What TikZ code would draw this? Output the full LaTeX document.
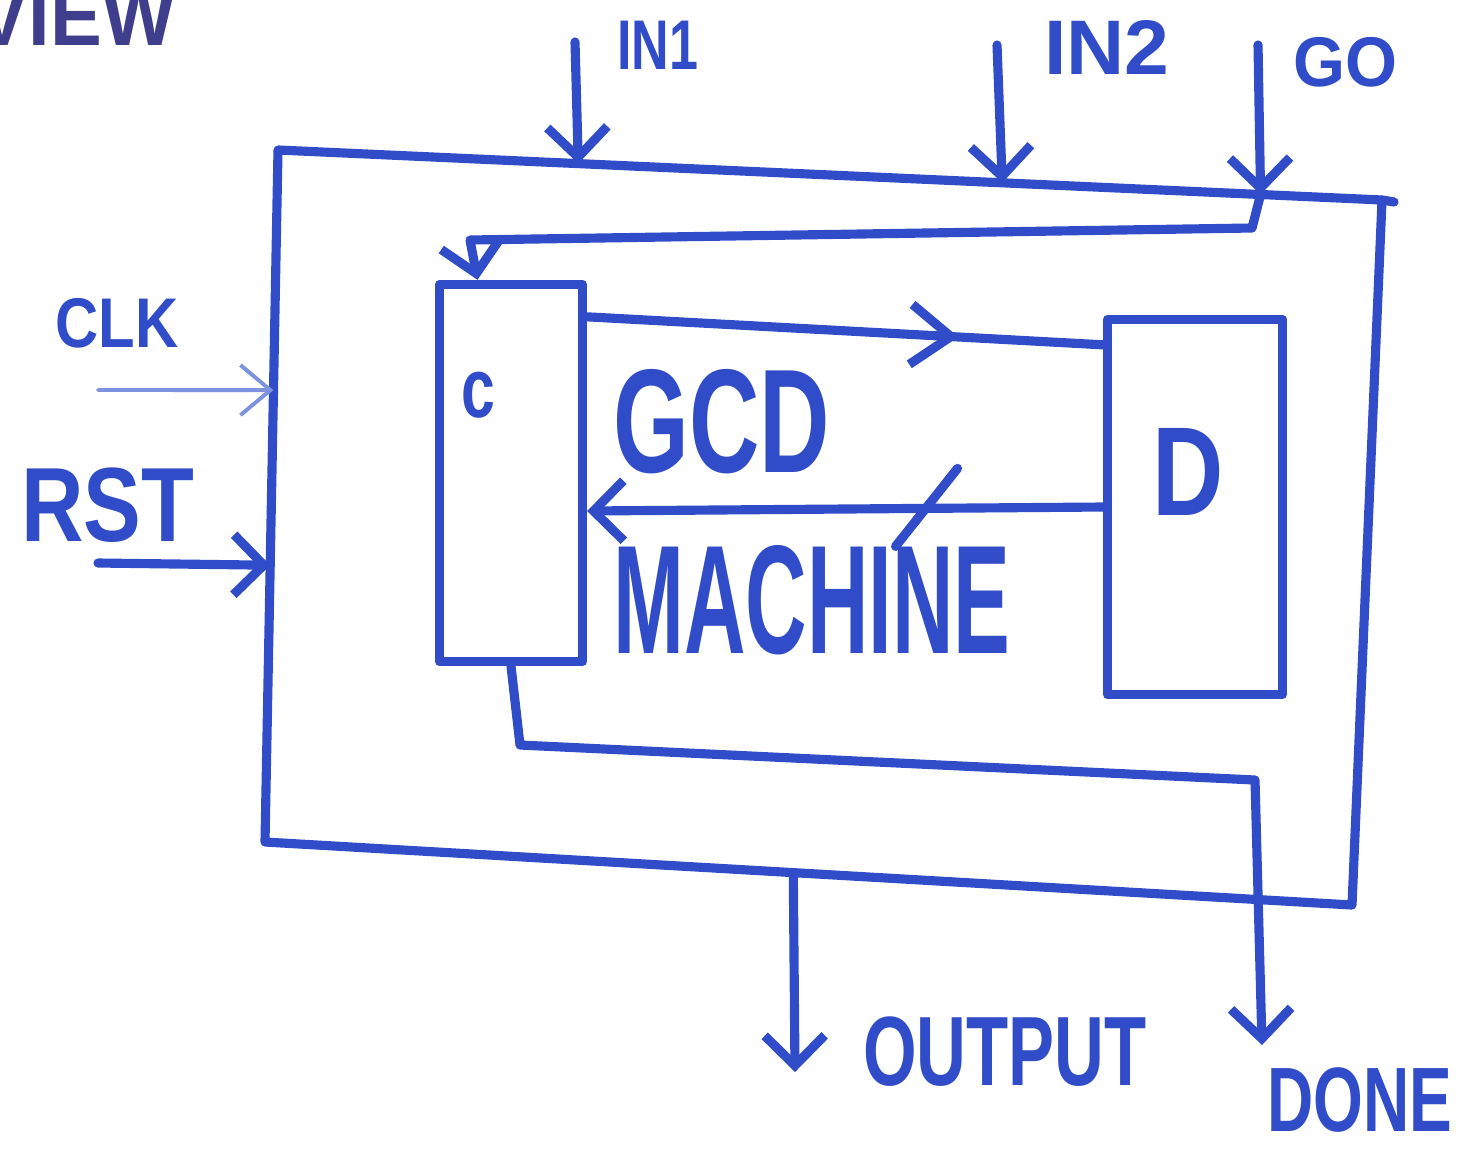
\documentclass[tikz,border=0pt]{standalone}
\usepackage{fontspec}
\setmainfont{Liberation Sans}
\usepackage{graphicx}
\usetikzlibrary{arrows.meta, calc, decorations.markings}

\definecolor{ink}{RGB}{48,76,200}
\definecolor{inkDark}{RGB}{62,62,140}
\definecolor{inkLight}{RGB}{125,145,225}

% narrow hand lettering
\newcommand{\squeeze}[2]{\scalebox{#1}[1]{#2}}

\begin{document}
\begin{tikzpicture}[
		x=0.01cm, y=-0.01cm,
		% Styles
		wire/.style={draw=ink, line width=2.6pt, line cap=round, line join=round},
		inArrow/.style={wire, -{Straight Barb[length=3mm, width=6mm]}},
		clkArrow/.style={draw=inkLight, line width=1.1pt, line cap=round, -{Straight Barb[length=3mm, width=5mm]}},
		blockBox/.style={draw=ink, line width=2.6pt, line join=round, minimum width=#1, minimum height=3.77cm, inner sep=0pt},
		handLabel/.style={text=ink, inner sep=0pt, font=\fontsize{#1pt}{#1pt}\selectfont\bfseries},
		midArrow/.style={postaction={decorate, decoration={markings, mark=at position #1 with {\arrow[draw=ink, line width=2.6pt]{Straight Barb[length=4mm, width=6mm]}}}}}
		]
		\useasboundingbox (0,0) rectangle (1483,1148);
		
		% =========================================================
		% 1. TITLE (cut off at the page edge)
		% =========================================================
		\node[handLabel=24, text=inkDark, anchor=base east] (viewLabel) at (176,45) {\squeeze{0.92}{VIEW}};
		
		% =========================================================
		% 2. OUTER BOX AND THE TWO BLOCKS
		% =========================================================
		\coordinate (boxTL) at (278,150);
		\coordinate (boxTR) at (1382,200);
		\coordinate (boxBR) at (1352,905);
		\coordinate (boxBL) at (265,842);
		\draw[wire] (boxTL) -- (boxTR) -- (boxBR) -- (boxBL) -- cycle;
		\draw[wire] (boxTR) -- ++(12,2);
		
		\node[blockBox=1.43cm] (ctrlBox) at (511,473) {};
		\node[handLabel=24] (ctrlLabel) at (478,395) {\squeeze{0.72}{c}};
		
		\node[blockBox=1.75cm, minimum height=3.75cm] (dataBox) at (1195,507) {};
		\node[handLabel=36] (dataLabel) at (1188,472) {\squeeze{0.78}{D}};
		
		\node[handLabel=42] (gcdLabel) at (722,422) {\squeeze{0.66}{GCD}};
		\node[handLabel=44] (machineLabel) at (812,600) {\squeeze{0.55}{MACHINE}};
		
		% =========================================================
		% 3. INPUTS
		% =========================================================
		\coordinate (in1Src) at (575,42);
		\coordinate (in2Src) at (997,45);
		\coordinate (goSrc) at (1258,45);
		\draw[inArrow] (in1Src) -- ($(boxTL)!0.272!(boxTR)$);
		\draw[inArrow] (in2Src) -- ($(boxTL)!0.656!(boxTR)$);
		\draw[inArrow] (goSrc) -- ($(boxTL)!0.89!(boxTR)$);
		\node[handLabel=20] (in1Label) at (658,45) {\squeeze{0.74}{IN1}};
		\node[handLabel=22] (in2Label) at (1107,47) {\squeeze{1.04}{IN2}};
		\node[handLabel=20] (goLabel) at (1345,62) {\squeeze{0.95}{GO}};
		
		\coordinate (clkSrc) at (98,390);
		\coordinate (rstSrc) at (98,563);
		\draw[clkArrow] (clkSrc) -- ($(boxTL)!0.347!(boxBL)$);
		\draw[inArrow] (rstSrc) -- ($(boxTL)!0.6!(boxBL)$);
		\node[handLabel=20] (clkLabel) at (117,323) {\squeeze{0.85}{CLK}};
		\node[handLabel=30] (rstLabel) at (108,505) {\squeeze{0.82}{RST}};
		
		% =========================================================
		% 4. INTERNAL WIRING
		% =========================================================
		% GO routed into the controller
		\coordinate (goTurn) at (1252,228);
		\coordinate (goLeft) at (470,240);
		\draw[inArrow] ($(boxTL)!0.89!(boxTR)$) -- (goTurn) -- (goLeft) -- ($(ctrlBox.north west)!0.28!(ctrlBox.north east)$);
		
		% control C -> D
		\draw[wire, midArrow=0.72] ($(ctrlBox.north east)+(0,37)$) -- ($(dataBox.north west)+(0,30)$);
		
		% status bus D -> C
		\draw[inArrow] (dataBox.west) -- coordinate[pos=0.34] (busMark) ($(ctrlBox.east)+(0,38)$);
		\draw[wire] ($(busMark)+(-32,38)$) -- ($(busMark)+(30,-40)$);
		
		% =========================================================
		% 5. OUTPUTS
		% =========================================================
		\coordinate (doneLow) at (520,745);
		\coordinate (doneTurn) at (1255,780);
		\coordinate (doneEnd) at (1262,1045);
		\draw[inArrow] (ctrlBox.south) -- (doneLow) -- (doneTurn) -- (doneEnd);
		\node[handLabel=26] (doneLabel) at (1360,1100) {\squeeze{0.7}{DONE}};
		
		\coordinate (outEnd) at (795,1072);
		\draw[inArrow] ($(boxBL)!0.486!(boxBR)$) -- (outEnd);
		\node[handLabel=28] (outLabel) at (1005,1052) {\squeeze{0.7}{OUTPUT}};
		
	\end{tikzpicture}
\end{document}
